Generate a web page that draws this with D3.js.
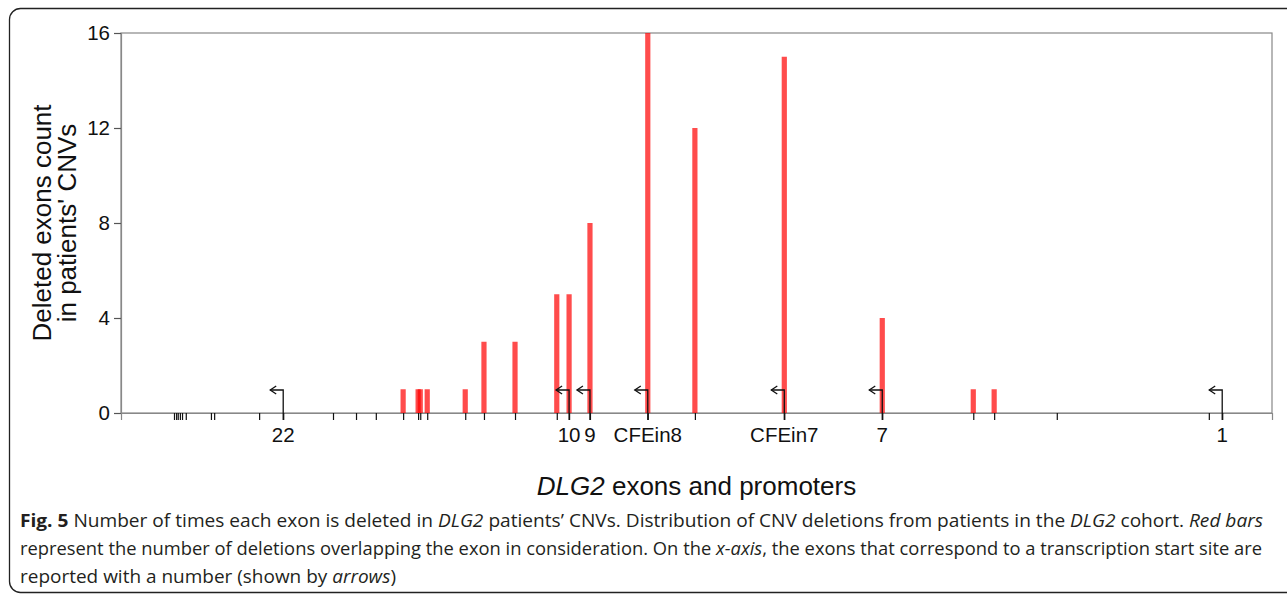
<!DOCTYPE html>
<html>
<head>
<meta charset="utf-8">
<script src="https://cdn.jsdelivr.net/npm/d3@7"></script>
<style>
  body { margin: 0; background: #fff; }
  svg { display: block; }
  text { font-family: "Liberation Sans", Arial, sans-serif; }
  .caption text { font-family: "Open Sans", sans-serif; }
</style>
</head>
<body>
<div id="chart"></div>
<script>
// exon positions along DLG2 (relative kb) and deletion counts per exon
var exonPos = [99, 103, 106, 110, 114, 121, 168, 174, 258, 303, 396, 439, 476,
               527, 555, 559, 572, 643, 678, 736, 814, 837, 876, 984, 1072,
               1239, 1422, 1592, 1631, 1748, 2032, 2057];
var deletions = [0, 0, 0, 0, 0, 0, 0, 0, 0, 0, 0, 0, 0,
                 1, 1, 1, 1, 1, 3, 3, 5, 5, 8, 16, 12,
                 15, 4, 1, 1, 0, 0, 0];

// promoters (transcription start sites)
var promoterPos = [303, 837, 876, 984, 1239, 1422, 2057];
var promoterLabels = ["22", "10", "9", "CFEin8", "CFEin7", "7", "1"];

var yTicks = [0, 4, 8, 12, 16];

var width = 1287, height = 596;
var margin = {left: 121, right: 15, top: 33, bottom: 183};

var svg = d3.select("#chart").append("svg")
    .attr("width", width)
    .attr("height", height);

// outer figure frame
svg.append("rect")
    .attr("x", 9.5).attr("y", 8.5)
    .attr("width", 1290).attr("height", 584)
    .attr("rx", 11)
    .attr("fill", "none")
    .attr("stroke", "#222")
    .attr("stroke-width", 1.3);

var x = d3.scaleLinear()
    .domain([0, 2150])
    .range([margin.left, width - margin.right]);

var y = d3.scaleLinear()
    .domain([0, 16])
    .range([height - margin.bottom, margin.top]);

var data = exonPos.map(function(p, i) { return {pos: p, count: deletions[i]}; });

// plot frame
svg.append("rect")
    .attr("x", x.range()[0])
    .attr("y", y(16))
    .attr("width", x.range()[1] - x.range()[0])
    .attr("height", y(0) - y(16))
    .attr("fill", "none")
    .attr("stroke", "#888")
    .attr("stroke-width", 1.2);

// bars
svg.append("g").attr("class", "bars")
    .selectAll("rect")
    .data(data.filter(function(d) { return d.count > 0; }))
    .enter().append("rect")
    .attr("x", function(d) { return x(d.pos) - 2.6; })
    .attr("width", 5.2)
    .attr("y", function(d) { return y(d.count); })
    .attr("height", function(d) { return y(0) - y(d.count); })
    .attr("fill", "#ff0000")
    .attr("fill-opacity", 0.7);

// y axis
var yAxis = d3.axisLeft(y)
    .tickValues(yTicks)
    .tickSize(7)
    .tickPadding(4);

var gy = svg.append("g")
    .attr("transform", "translate(" + x.range()[0] + ",0)")
    .call(yAxis);
gy.select(".domain").attr("stroke", "#888").attr("stroke-width", 1.2);
gy.selectAll(".tick line").attr("stroke", "#555").attr("stroke-width", 1.2);
gy.selectAll(".tick text")
    .attr("font-size", 20.5)
    .attr("fill", "#111")
    .style("font-family", "Liberation Sans, Arial, sans-serif");

// x axis: a tick for every exon, labels for promoters
var xAxis = d3.axisBottom(x)
    .tickValues(exonPos)
    .tickSize(7)
    .tickFormat("");

var gx = svg.append("g")
    .attr("transform", "translate(0," + y(0) + ")")
    .call(xAxis);
gx.select(".domain").attr("stroke", "#888").attr("stroke-width", 1.2);
gx.selectAll(".tick line").attr("stroke", "#111").attr("stroke-width", 1.2);

// promoter arrows
var arrows = svg.append("g").attr("class", "arrows")
    .attr("fill", "none")
    .attr("stroke", "#111")
    .attr("stroke-width", 1.3);

promoterPos.forEach(function(p) {
    var px = x(p), top = y(0) - 23;
    arrows.append("path")
        .attr("d", "M" + px + "," + (y(0) + 7) + "V" + top + "H" + (px - 13));
    arrows.append("path")
        .attr("d", "M" + (px - 7) + "," + (top - 4) + "L" + (px - 13) + "," + top +
                   "L" + (px - 7) + "," + (top + 4));
});

svg.append("g").selectAll("text")
    .data(promoterPos)
    .enter().append("text")
    .attr("x", function(d) { return x(d); })
    .attr("y", y(0) + 29)
    .attr("text-anchor", "middle")
    .attr("font-size", 20.5)
    .attr("fill", "#111")
    .text(function(d, i) { return promoterLabels[i]; });

// y title
var yt = svg.append("text")
    .attr("transform", "translate(51," + ((y(0) + y(16)) / 2) + ") rotate(-90)")
    .attr("text-anchor", "middle")
    .attr("font-size", 26)
    .attr("fill", "#111");
yt.append("tspan").attr("x", 0).attr("dy", 0).text("Deleted exons count");
yt.append("tspan").attr("x", 0).attr("dy", 25).text("in patients' CNVs");

// x title
var xt = svg.append("text")
    .attr("x", (x.range()[0] + x.range()[1]) / 2)
    .attr("y", 495)
    .attr("text-anchor", "middle")
    .attr("font-size", 26)
    .attr("fill", "#111");
xt.append("tspan").attr("font-style", "italic").text("DLG2");
xt.append("tspan").text(" exons and promoters");

// caption
var caption = [
    [["Fig. 5", "b"], [" Number of times each exon is deleted in ", ""], ["DLG2", "i"],
     [" patients\u2019 CNVs. Distribution of CNV deletions from patients in the ", ""],
     ["DLG2", "i"], [" cohort. ", ""], ["Red bars", "i"]],
    [["represent the number of deletions overlapping the exon in consideration. On the ", ""],
     ["x-axis", "i"], [", the exons that correspond to a transcription start site are", ""]],
    [["reported with a number (shown by ", ""], ["arrows", "i"], [")", ""]]
];
var capLen = [1243, 1242, 376];

var cg = svg.append("g").attr("class", "caption");
caption.forEach(function(line, i) {
    var t = cg.append("text")
        .attr("x", 20)
        .attr("y", 527 + i * 28)
        .attr("font-size", 17.5)
        .attr("fill", "#231f20")
        .attr("textLength", capLen[i])
        .attr("lengthAdjust", "spacingAndGlyphs");
    line.forEach(function(s) {
        t.append("tspan")
            .attr("font-weight", s[1] === "b" ? "bold" : null)
            .attr("font-style", s[1] === "i" ? "italic" : null)
            .text(s[0]);
    });
});
</script>
</body>
</html>
